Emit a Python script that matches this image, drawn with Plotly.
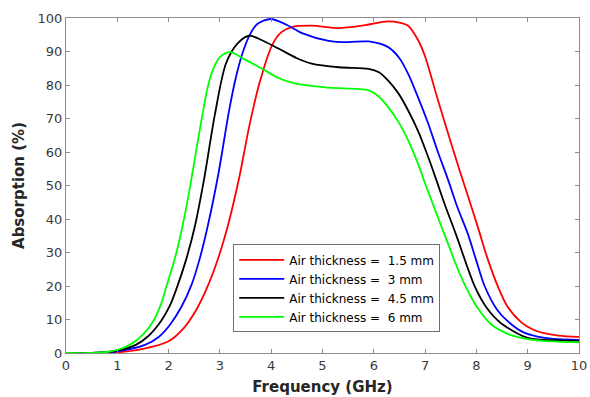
import plotly.graph_objects as go

# Frequency (GHz) / absorption (%)
f_red = [0, 0.5, 1.0, 1.5, 2.0, 2.3, 2.54, 2.75, 2.96, 3.15, 3.38, 3.57, 3.77, 4.02, 4.2, 4.4, 4.79, 5.32, 5.8, 6.28, 6.5, 6.67, 6.87, 7.0, 7.25, 7.58, 7.8, 8.03, 8.2, 8.42, 8.6, 8.87, 9.1, 9.32, 9.6, 10]
a_red = [0, 0, 0.2, 1.2, 3.5, 7.5, 12.9, 19.5, 28, 37.7, 52.6, 67.5, 80.5, 92, 95.8, 97.3, 97.7, 97.0, 97.8, 99.0, 98.6, 97.7, 93.2, 88.5, 75.5, 59, 48.5, 37.5, 29, 19.8, 14, 9.2, 7, 5.9, 5.2, 4.8]

f_blue = [0, 0.5, 1.0, 1.55, 1.8, 2.02, 2.25, 2.45, 2.6, 2.76, 2.96, 3.18, 3.3, 3.44, 3.6, 3.73, 3.99, 4.3, 4.6, 5.12, 5.5, 5.9, 6.28, 6.5, 6.67, 6.87, 7.06, 7.25, 7.45, 7.63, 7.83, 8.0, 8.16, 8.4, 8.61, 8.9, 9.19, 9.5, 10]
a_blue = [0, 0, 0.5, 2.5, 4.7, 8.3, 13.8, 20.5, 27.8, 37.7, 52.6, 72.4, 81.5, 89.5, 95.5, 98.2, 99.7, 98.0, 95.5, 93.2, 92.8, 93.0, 91.3, 88, 83.3, 76, 68.5, 60, 51.6, 43.5, 35.7, 27.5, 20, 13, 9.5, 6.3, 4.9, 4.2, 3.9]

f_black = [0, 0.5, 1.0, 1.37, 1.6, 1.85, 2.02, 2.15, 2.34, 2.51, 2.7, 2.9, 3.12, 3.35, 3.57, 3.8, 4.15, 4.5, 4.79, 5.32, 5.9, 6.1, 6.28, 6.48, 6.67, 6.87, 7.06, 7.22, 7.38, 7.6, 7.97, 8.2, 8.48, 9.0, 9.5, 10]
a_black = [0, 0, 0.7, 2.5, 5, 9.5, 14, 19, 27.8, 37.7, 52.6, 71, 86.5, 92.5, 94.7, 93.5, 90.8, 88.0, 86.4, 85.3, 84.8, 83.8, 81.3, 77.5, 72.4, 66, 58.5, 51.6, 44.5, 35.5, 19.8, 13.5, 8.9, 4.5, 3.8, 3.6]

f_green = [0, 0.5, 0.8, 1.0, 1.25, 1.5, 1.7, 1.85, 1.96, 2.09, 2.2, 2.3, 2.4, 2.5, 2.6, 2.67, 2.75, 2.85, 3.0, 3.2, 3.5, 3.83, 4.15, 4.48, 5.12, 5.9, 6.1, 6.28, 6.48, 6.67, 6.85, 7.0, 7.25, 7.45, 7.6, 7.77, 8.0, 8.29, 8.6, 8.87, 9.3, 10]
a_green = [0, 0, 0.3, 0.9, 2.5, 5.5, 9.5, 14.5, 20, 26.5, 33, 40, 48, 57, 66, 72, 78.5, 84, 88.3, 89.8, 87.5, 84.8, 82.0, 80.4, 79.2, 78.4, 76.5, 73.4, 69, 63.5, 57, 50.6, 40.5, 32.5, 26.5, 20.5, 14, 8.5, 5.8, 4.5, 3.6, 3.2]

names = ["Air thickness =\u00a0 1.5 mm", "Air thickness =\u00a0 3 mm",
         "Air thickness =\u00a0 4.5 mm", "Air thickness =\u00a0 6 mm"]
colors = ["#ff0000", "#0000ff", "#000000", "#00ff00"]
xs = [f_red, f_blue, f_black, f_green]
ys = [a_red, a_blue, a_black, a_green]

x_ticks = list(range(0, 11))
y_ticks = list(range(0, 101, 10))

FONT = "DejaVu Sans, Arial"

fig = go.Figure()
for x, y, n, c in zip(xs, ys, names, colors):
    fig.add_trace(go.Scatter(x=x, y=y, name=n, mode="lines",
                             line=dict(color=c, width=1.8, shape="spline", smoothing=0.85)))

axis_common = dict(showline=True, linecolor="#8c8c8c", linewidth=1, mirror="ticks",
                   ticks="inside", ticklen=4, tickcolor="#8c8c8c", showgrid=False,
                   zeroline=False, automargin=False,
                   tickfont=dict(family=FONT, size=13, color="#3a3a3a"))

fig.update_layout(
    width=590, height=397,
    margin=dict(l=66, r=11, t=18, b=44),
    paper_bgcolor="white", plot_bgcolor="white",
    font=dict(family=FONT, color="#262626"),
    xaxis=dict(range=[0, 10], tickvals=x_ticks, **axis_common,
               title=dict(text="<b>Frequency (GHz)</b>", font=dict(family=FONT, size=15, color="#262626"), standoff=9)),
    yaxis=dict(range=[0, 100], tickvals=y_ticks, **axis_common,
               title=dict(text="<b>Absorption (%)</b>", font=dict(family=FONT, size=15, color="#262626"), standoff=9)),
    legend=dict(x=0.326, y=0.324, xanchor="left", yanchor="top",
                bordercolor="#707070", borderwidth=1, bgcolor="white",
                font=dict(family=FONT, size=12, color="#000000"), itemwidth=45,
                tracegroupgap=0),
    showlegend=True,
)

fig.write_html("out.html")
